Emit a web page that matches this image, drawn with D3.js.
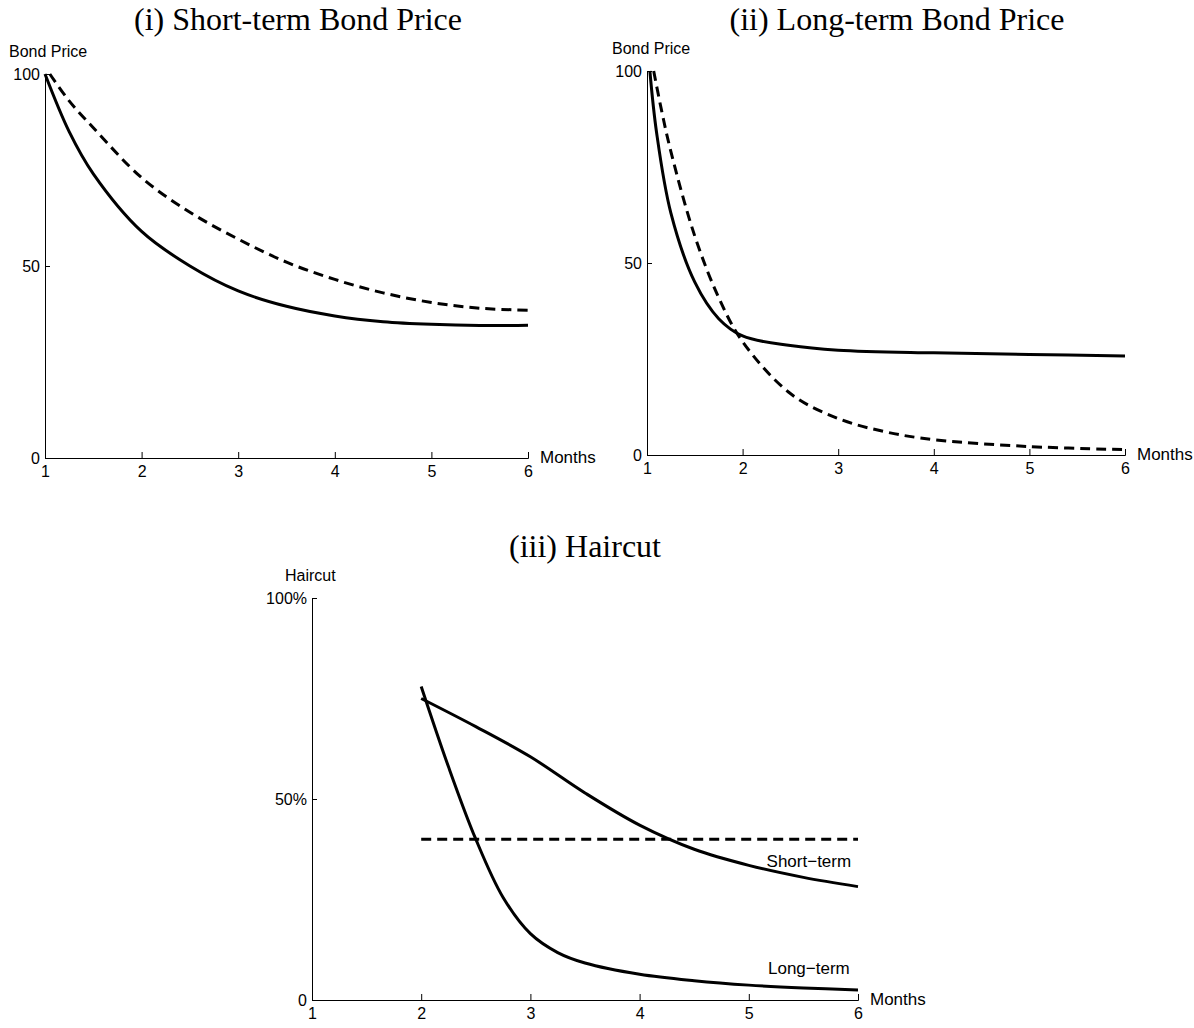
<!DOCTYPE html>
<html><head><meta charset="utf-8">
<script src="https://cdn.jsdelivr.net/npm/d3@7"></script>
<style>
body{margin:0;background:#fff}
text{font-family:"Liberation Sans Narrow","Arial Narrow","Liberation Sans",Arial,sans-serif}
.title{font-family:"Liberation Serif","Times New Roman",serif;font-size:32px}
</style></head><body>
<svg id="chart" width="1194" height="1028"></svg>
<script>
// month ticks
var months = [1,2,3,4,5,6]

// (i) short-term bond price
var shortSolidX = [1, 1.25, 1.5, 2, 2.5, 3, 3.5, 4, 4.5, 5, 5.5, 6]
var shortSolidY = [100, 85, 74, 59, 50, 43.5, 39.5, 37, 35.5, 34.8, 34.5, 34.6]
var shortDashX = [1.05, 1.25, 1.5, 2, 2.5, 3, 3.5, 4, 4.5, 5, 5.5, 6]
var shortDashY = [100, 93, 86, 73, 64, 57, 51, 46.5, 43, 40.5, 39, 38.5]

// (ii) long-term bond price
var longSolidX = [1.03, 1.1, 1.25, 1.5, 1.75, 2, 2.5, 3, 4, 5, 6]
var longSolidY = [100, 84, 63, 45, 35.5, 31, 28.5, 27.3, 26.6, 26.2, 25.8]
var longDashX = [1.07, 1.15, 1.25, 1.5, 1.75, 2, 2.5, 3, 3.5, 4, 5, 6]
var longDashY = [100, 90, 79, 57, 41, 29.5, 16, 9.5, 6, 4, 2.2, 1.4]

// (iii) haircut
var hcShortX = [2, 2.5, 3, 3.5, 4, 4.5, 5, 5.5, 6]
var hcShortY = [75, 68, 60.5, 51.5, 43.5, 37.5, 33.5, 30.5, 28.2]
var hcLongX = [2, 2.25, 2.5, 2.75, 3, 3.25, 3.5, 4, 4.5, 5, 5.5, 6]
var hcLongY = [78, 58, 40, 25.5, 16.5, 11.8, 9.2, 6.4, 4.8, 3.7, 3, 2.5]
var hcDashX = [2, 6]
var hcDashY = [40, 40]

var svg = d3.select('#chart')

function panel(o) {
	var x = d3.scaleLinear().domain([1,6]).range([o.x0, o.x1])
	var y = d3.scaleLinear().domain([0,100]).range([o.y0, o.y1])
	var g = svg.append('g')
	g.append('text').attr('class','title').attr('x',o.tx).attr('y',o.ty)
		.attr('text-anchor','middle').text(o.title)
	var xa = g.append('g').attr('transform','translate(0,'+o.y0+')')
		.call(d3.axisTop(x).tickValues(months).tickSize(6).tickFormat(d3.format('d')))
	xa.selectAll('text').attr('dy','0').attr('y',19).style('font-size','16px')
	var ya = g.append('g').attr('transform','translate('+o.x0+',0)')
		.call(d3.axisRight(y).tickValues([0,50,100]).tickSize(5).tickFormat(o.yfmt))
	ya.selectAll('text').attr('x',-5).attr('text-anchor','end').style('font-size','16px')
	g.selectAll('.domain').attr('stroke','#000')
	g.selectAll('.tick line').attr('stroke','#000')
	g.append('text').attr('x',o.ylx).attr('y',o.y1-17).style('font-size','16px').text(o.ylab)
	g.append('text').attr('x',o.x1+12).attr('y',o.y0+5).style('font-size','17px').text('Months')
	var line = d3.line().curve(d3.curveCatmullRom.alpha(0.5)).x(function(d){return x(d[0])}).y(function(d){return y(d[1])})
	o.series.forEach(function(s){
		g.append('path').datum(d3.zip(s.x, s.y)).attr('d', line)
			.attr('fill','none').attr('stroke','#000').attr('stroke-width',3)
			.attr('stroke-dasharray', s.dash ? '10,6' : null)
	})
	return {g:g, x:x, y:y}
}

panel({x0:45, x1:528, y0:458, y1:74, tx:298, ty:30, title:'(i) Short-term Bond Price',
	ylab:'Bond Price', ylx:9, yfmt:d3.format('d'),
	series:[{x:shortSolidX,y:shortSolidY},{x:shortDashX,y:shortDashY,dash:true}]})

panel({x0:647, x1:1125, y0:455, y1:71, tx:897, ty:30, title:'(ii) Long-term Bond Price',
	ylab:'Bond Price', ylx:612, yfmt:d3.format('d'),
	series:[{x:longSolidX,y:longSolidY},{x:longDashX,y:longDashY,dash:true}]})

var p3 = panel({x0:312, x1:858, y0:1000, y1:598, tx:585, ty:557, title:'(iii) Haircut',
	ylab:'Haircut', ylx:285, yfmt:function(d){return d===0 ? '0' : d+'%'},
	series:[{x:hcShortX,y:hcShortY},{x:hcLongX,y:hcLongY},{x:hcDashX,y:hcDashY,dash:true}]})
p3.g.append('text').attr('x',p3.x(5.55)).attr('y',p3.y(33)).attr('text-anchor','middle')
	.style('font-size','17px').text('Short−term')
p3.g.append('text').attr('x',p3.x(5.55)).attr('y',p3.y(6.5)).attr('text-anchor','middle')
	.style('font-size','17px').text('Long−term')
</script></body></html>
